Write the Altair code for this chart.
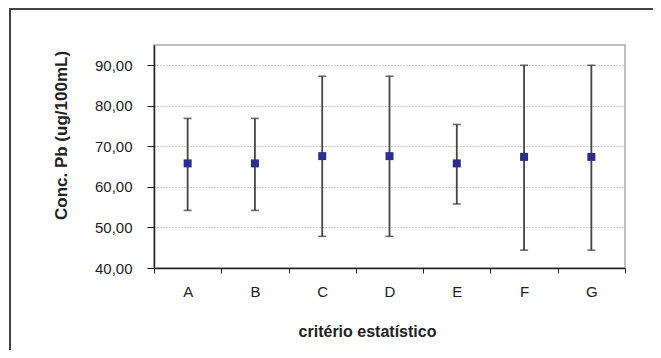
import altair as alt
import pandas as pd

categories = ["A", "B", "C", "D", "E", "F", "G"]
means = [65.8, 65.8, 67.6, 67.6, 65.8, 67.4, 67.4]
upper = [76.9, 76.9, 87.3, 87.3, 75.4, 90.0, 90.0]
lower = [54.2, 54.2, 47.8, 47.8, 55.8, 44.4, 44.4]
y_ticks = [40, 50, 60, 70, 80, 90]

df = pd.DataFrame({"cat": categories, "mean": means, "up": upper, "lo": lower})

FONT = "Liberation Sans"

x_enc = alt.X(
    "cat:N",
    sort=categories,
    scale=alt.Scale(paddingInner=0, paddingOuter=0),
    axis=alt.Axis(
        title="critério estatístico",
        labelAngle=0,
        tickBand="extent",
        tickSize=5,
        tickColor="#222",
        domainColor="#222",
        domainWidth=1.5,
        labelFontSize=15,
        labelColor="#222",
        labelFont=FONT,
        labelPadding=11,
        labelBaseline="top",
        titleFontSize=16,
        titleFont=FONT,
        titleFontWeight="bold",
        titleColor="#222",
        titleX=213,
        titleY=63,
        titleBaseline="middle",
        titleAlign="center",
        grid=False,
    ),
)

y_scale = alt.Scale(domain=[40, 95], nice=False, zero=False)

base = alt.Chart(df)

rules = base.mark_rule(color="#444", strokeWidth=1.8).encode(
    x=x_enc,
    y=alt.Y(
        "lo:Q",
        scale=y_scale,
        axis=alt.Axis(
            title="Conc. Pb (ug/100mL)",
            values=y_ticks,
            labelExpr="replace(format(datum.value, '.2f'), '.', ',')",
            tickSize=7,
            tickColor="#222",
            domainColor="#222",
            domainWidth=1.5,
            labelFontSize=15,
            labelColor="#222",
            labelFont=FONT,
            labelPadding=15,
            grid=True,
            gridDash=[1, 2],
            gridColor="#999",
            gridWidth=1,
            titleFontSize=17,
            titleFont=FONT,
            titleFontWeight="bold",
            titleColor="#222",
            titleX=-93,
            titleY=90,
            titleAngle=270,
            titleAlign="center",
            titleBaseline="middle",
        ),
    ),
    y2="up:Q",
)

caps_up = base.mark_tick(color="#333", thickness=1.6, size=8).encode(
    x=alt.X("cat:N", sort=categories), y=alt.Y("up:Q", scale=y_scale)
)
caps_lo = base.mark_tick(color="#333", thickness=1.6, size=8).encode(
    x=alt.X("cat:N", sort=categories), y=alt.Y("lo:Q", scale=y_scale)
)
points = base.mark_square(size=64, color="#2b2e8f", opacity=1).encode(
    x=alt.X("cat:N", sort=categories), y=alt.Y("mean:Q", scale=y_scale)
)

one = alt.Data(values=[{"f": 1}])
frame_left = alt.Chart(one).mark_rule(color="#444", strokeWidth=2).encode(
    x=alt.value(-144), y=alt.value(-37), y2=alt.value(305)
)
frame_top = alt.Chart(one).mark_rule(color="#444", strokeWidth=2).encode(
    x=alt.value(-145), x2=alt.value(499), y=alt.value(-36)
)

chart = (
    alt.layer(frame_left, frame_top, rules, caps_up, caps_lo, points)
    .properties(
        width=471,
        height=223,
        background="white",
        autosize=alt.AutoSizeParams(type="none"),
        padding={"left": 146, "top": 37, "right": 28, "bottom": 82},
    )
    .configure_view(stroke="#aaa", strokeWidth=1.5)
)

chart.save("out.html", embed_options={"renderer": "svg", "actions": False})
